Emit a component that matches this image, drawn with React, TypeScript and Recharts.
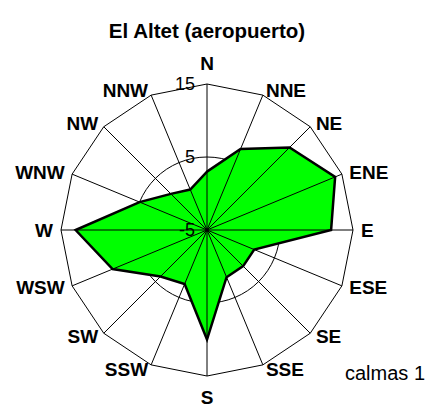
import React from 'react';
import { RadarChart, Radar, PolarGrid, PolarAngleAxis, PolarRadiusAxis } from 'recharts';

const directions = ['N', 'NNE', 'NE', 'ENE', 'E', 'ESE', 'SE', 'SSE', 'S', 'SSW', 'SW', 'WSW', 'W', 'WNW', 'NW', 'NNW'];
const frequencies = [3, 7, 11, 14, 12, 2, 2, 2, 10, 3, 4, 9, 13, 5, 2, 1];
const radiusTicks = [-5, 5, 15];
const radiusDomain = [-5, 15];
const title = 'El Altet (aeropuerto)';
const calmsLabel = 'calmas 1';

const data = directions.map((d, i) => ({ dir: d, value: frequencies[i] }));

const FONT = '"Liberation Sans", Arial, Helvetica, sans-serif';

const AngleTick = (props: any) => {
  const { x, y, textAnchor, payload } = props;
  const a = ((payload?.coordinate ?? 0) * Math.PI) / 180;
  const c = Math.cos(a);
  const s = Math.sin(a);
  const dy = Math.abs(c) < 1e-6 ? -s * 13 : 3 * s;
  return (
    <text
      x={x}
      y={y + dy}
      textAnchor={textAnchor}
      dominantBaseline="central"
      fontSize={19}
      fontWeight="bold"
      fontFamily={FONT}
      fill="#000"
    >
      {payload.value}
    </text>
  );
};

const RadiusTick = (props: any) => {
  const { x, y, payload } = props;
  return (
    <text
      x={x - 12}
      y={y}
      textAnchor="end"
      dominantBaseline="central"
      fontSize={18}
      fontFamily={FONT}
      fill="#000"
    >
      {payload.value}
    </text>
  );
};

export default function App() {
  return (
    <div style={{ position: 'absolute', left: 0, top: 0, width: 434, height: 408, background: '#fff' }}>
      <RadarChart
        width={434}
        height={408}
        data={data}
        cx={207}
        cy={230}
        outerRadius={146}
        margin={{ top: 0, right: 0, bottom: 0, left: 0 }}
      >
        <PolarGrid gridType="polygon" polarRadius={[146]} radialLines={false} stroke="#000" strokeWidth={1} />
        <PolarGrid gridType="circle" polarRadius={[73]} radialLines={false} stroke="#000" strokeWidth={1} />
        <Radar
          dataKey="value"
          stroke="#000"
          strokeWidth={2.5}
          fill="#00ff00"
          fillOpacity={1}
          dot={false}
          isAnimationActive={false}
        />
        <PolarGrid
          gridType="polygon"
          polarRadius={[]}
          radialLines={true}
          stroke="#000"
          strokeWidth={1}
          zIndex={1000}
        />
        <PolarAngleAxis dataKey="dir" tick={<AngleTick />} tickLine={false} axisLine={false} />
        <PolarRadiusAxis
          angle={90}
          domain={radiusDomain}
          ticks={radiusTicks}
          tick={<RadiusTick />}
          tickLine={false}
          axisLine={false}
          type="number"
        />
      </RadarChart>
      <svg
        width={434}
        height={408}
        style={{ position: 'absolute', left: 0, top: 0, pointerEvents: 'none' }}
      >
        <text x={207} y={30} textAnchor="middle" dominantBaseline="central" fontSize={20.5} fontWeight="bold" fontFamily={FONT} fill="#000">
          {title}
        </text>
        <text x={345} y={380} textAnchor="start" fontSize={20} fontFamily={FONT} fill="#000">
          {calmsLabel}
        </text>
      </svg>
    </div>
  );
}
